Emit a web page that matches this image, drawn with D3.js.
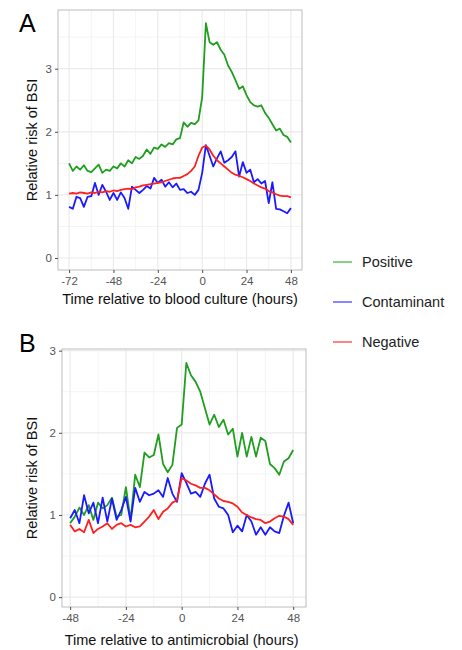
<!DOCTYPE html>
<html><head><meta charset="utf-8">
<script src="https://cdn.jsdelivr.net/npm/d3@7"></script>
<style>body{margin:0;background:#fff;} svg{display:block;font-family:"Liberation Sans",Arial,sans-serif;}</style>
</head><body>
<script>
// ---------- data ----------
const seriesNames = ["Positive", "Contaminant", "Negative"];
const seriesColors = ["#1f9e1f", "#1a1aff", "#ff2020"];
const legendColors = ["#5fc35f", "#6060ff", "#ff5a5a"];

const hoursA = d3.range(-72, 49, 2);
const positiveA = [1.50,1.38,1.45,1.40,1.47,1.38,1.36,1.42,1.48,1.35,1.40,1.38,1.45,1.42,1.50,1.45,1.55,1.50,1.60,1.57,1.62,1.72,1.65,1.75,1.73,1.80,1.76,1.82,1.80,1.88,1.90,2.15,2.08,2.14,2.12,2.18,2.55,3.72,3.42,3.38,3.42,3.30,3.22,3.05,2.95,2.82,2.68,2.72,2.58,2.47,2.42,2.40,2.42,2.30,2.22,2.12,2.02,2.05,1.95,1.92,1.83];
const contaminantA = [0.81,0.78,0.97,0.95,0.81,0.97,0.98,1.19,1.00,1.16,1.05,0.92,1.03,0.92,1.04,0.95,0.78,1.13,1.08,1.03,1.08,1.14,1.10,1.27,1.19,1.24,1.13,1.20,1.12,1.18,1.08,1.09,1.03,1.05,1.00,1.08,1.35,1.79,1.62,1.45,1.58,1.69,1.51,1.55,1.60,1.69,1.29,1.52,1.35,1.40,1.20,1.25,1.18,1.22,0.87,1.20,0.78,0.77,0.74,0.71,0.79];
const negativeA = [1.02,1.03,1.02,1.04,1.03,1.02,1.04,1.03,1.05,1.04,1.06,1.05,1.07,1.06,1.08,1.09,1.10,1.09,1.12,1.13,1.15,1.16,1.17,1.18,1.19,1.20,1.22,1.24,1.26,1.27,1.27,1.30,1.33,1.38,1.45,1.62,1.75,1.78,1.72,1.62,1.55,1.50,1.45,1.40,1.35,1.32,1.30,1.28,1.25,1.22,1.18,1.15,1.12,1.10,1.06,1.04,1.01,0.99,0.98,0.98,0.96];

const hoursB = d3.range(-48, 49, 2);
const positiveB = [0.90,0.98,1.09,1.00,1.12,0.94,1.15,1.08,1.12,1.21,0.98,1.00,1.34,0.94,1.49,1.34,1.76,1.70,1.73,1.98,1.62,1.52,1.61,2.06,2.10,2.85,2.70,2.62,2.50,2.30,2.10,2.22,2.07,2.16,1.98,2.05,1.71,2.00,1.71,1.95,1.71,1.94,1.90,1.62,1.57,1.49,1.65,1.69,1.79];
const contaminantB = [0.96,1.06,0.90,1.24,1.02,1.15,0.90,1.21,0.92,1.20,0.94,1.06,1.22,0.92,1.33,1.16,1.28,1.24,1.26,1.30,1.22,1.45,1.26,1.16,1.51,1.39,1.26,1.28,1.22,1.38,1.49,1.20,1.10,1.08,1.00,0.79,0.87,0.80,1.00,0.92,0.76,0.85,0.76,0.85,0.80,0.78,0.99,1.15,0.90];
const negativeB = [0.88,0.80,0.83,0.79,0.94,0.78,0.83,0.86,0.90,0.83,0.88,0.90,0.86,0.88,0.85,0.86,0.92,0.98,1.06,0.95,1.04,1.08,1.15,1.18,1.45,1.42,1.38,1.36,1.33,1.33,1.30,1.25,1.20,1.17,1.16,1.14,1.10,1.03,1.00,0.97,0.95,0.94,0.90,0.92,0.96,0.99,0.98,0.95,0.88];

const xTicksA = [-72,-48,-24,0,24,48];
const xMinorA = [-60,-36,-12,12,36];
const xTicksB = [-48,-24,0,24,48];
const xMinorB = [-36,-12,12,36];
const yTicks = [0,1,2,3];
const yMinor = [0.5,1.5,2.5,3.5];

const panels = [
  {label:"A", hours:hoursA, series:[positiveA, contaminantA, negativeA], xTicks:xTicksA, xMinor:xMinorA,
   xDomain:[-78,54], yDomain:[-0.19,3.93], box:{l:58,t:10,r:302,b:270}, xTitle:"Time relative to blood culture (hours)",
   labelY:32, titleY:304},
  {label:"B", hours:hoursB, series:[positiveB, contaminantB, negativeB], xTicks:xTicksB, xMinor:xMinorB,
   xDomain:[-51.5,53.5], yDomain:[-0.12,3.02], box:{l:62,t:349,r:306,b:607}, xTitle:"Time relative to antimicrobial (hours)",
   labelY:352, titleY:645}
];

const svg = d3.select("body").append("svg").attr("width",462).attr("height",650);
const fmt = d => String(d);

panels.forEach(p => {
  const b = p.box;
  const x = d3.scaleLinear().domain(p.xDomain).range([b.l, b.r]);
  const y = d3.scaleLinear().domain(p.yDomain).range([b.b, b.t]);
  const g = svg.append("g");
  const inY = yMinor.filter(v => v >= p.yDomain[0] && v <= p.yDomain[1]);
  g.selectAll(".mx").data(p.xMinor).join("line").attr("x1",d=>x(d)).attr("x2",d=>x(d)).attr("y1",b.t).attr("y2",b.b)
    .attr("stroke","#f4f4f4").attr("stroke-width",1);
  g.selectAll(".my").data(inY).join("line").attr("y1",d=>y(d)).attr("y2",d=>y(d)).attr("x1",b.l).attr("x2",b.r)
    .attr("stroke","#f4f4f4").attr("stroke-width",1);
  g.selectAll(".gx").data(p.xTicks).join("line").attr("x1",d=>x(d)).attr("x2",d=>x(d)).attr("y1",b.t).attr("y2",b.b)
    .attr("stroke","#ebebeb").attr("stroke-width",1.2);
  g.selectAll(".gy").data(yTicks).join("line").attr("y1",d=>y(d)).attr("y2",d=>y(d)).attr("x1",b.l).attr("x2",b.r)
    .attr("stroke","#ebebeb").attr("stroke-width",1.2);
  const line = d3.line().x((d,i)=>x(p.hours[i])).y(d=>y(d));
  p.series.forEach((s,k) => {
    g.append("path").datum(s).attr("d", line).attr("fill","none").attr("stroke",seriesColors[k])
      .attr("stroke-width",1.8).attr("stroke-linejoin","round");
  });
  g.append("rect").attr("x",b.l).attr("y",b.t).attr("width",b.r-b.l).attr("height",b.b-b.t)
    .attr("fill","none").attr("stroke","#bdbdbd").attr("stroke-width",1);
  const xa = d3.axisBottom(x).tickValues(p.xTicks).tickFormat(fmt).tickSize(3).tickPadding(4);
  const ya = d3.axisLeft(y).tickValues(yTicks).tickFormat(fmt).tickSize(3).tickPadding(3);
  const gx = g.append("g").attr("transform",`translate(0,${b.b})`).call(xa);
  const gy = g.append("g").attr("transform",`translate(${b.l},0)`).call(ya);
  [gx, gy].forEach(ax => {
    ax.select(".domain").remove();
    ax.selectAll(".tick line").attr("stroke","#4d4d4d");
    ax.selectAll(".tick text").attr("fill","#555").attr("font-size",11.5).attr("font-family","Liberation Sans, Arial, sans-serif");
  });
  g.append("text").attr("x",(x(p.xTicks[0])+x(p.xTicks[p.xTicks.length-1]))/2).attr("y",p.titleY).attr("text-anchor","middle")
    .attr("font-size",14.5).attr("fill","#111").text(p.xTitle);
  g.append("text").attr("transform",`translate(37,${(b.t+b.b)/2}) rotate(-90)`).attr("text-anchor","middle")
    .attr("font-size",14.5).attr("fill","#111").text("Relative risk of BSI");
  g.append("text").attr("x",19).attr("y",p.labelY).attr("font-size",25).attr("fill","#000").text(p.label);
});

const legY = [262, 302, 342];
const lg = svg.append("g");
seriesNames.forEach((n,k) => {
  lg.append("line").attr("x1",333).attr("x2",352).attr("y1",legY[k]).attr("y2",legY[k])
    .attr("stroke",legendColors[k]).attr("stroke-width",1.5);
  lg.append("text").attr("x",362).attr("y",legY[k]+5).attr("font-size",14.5).attr("fill","#222").text(n);
});
</script>
</body></html>
